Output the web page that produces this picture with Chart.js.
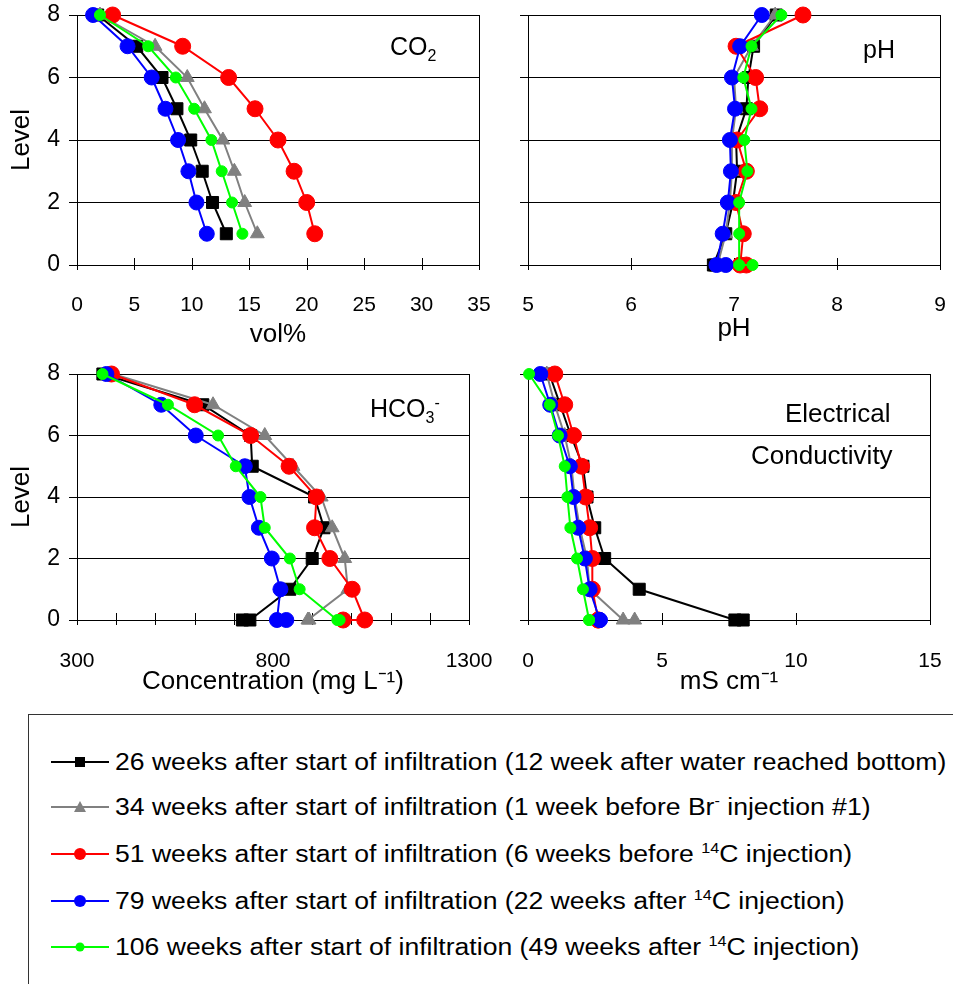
<!DOCTYPE html>
<html>
<head>
<meta charset="utf-8">
<script src="https://cdn.jsdelivr.net/npm/chart.js@4.4.1/dist/chart.umd.min.js"></script>
<style>
  body { margin: 0; width: 953px; height: 984px; overflow: hidden; position: relative; background: #fff;
         font-family: "Liberation Sans", Arial, sans-serif; color: #000; }
  canvas { position: absolute; }
  .ttl { position: absolute; font-size: 25px; line-height: 1; white-space: nowrap; z-index: 2; }
  .ttl .lo { font-size: 16px; position: relative; top: 6px; }
  .ttl .hi { font-size: 16px; position: relative; top: -9px; }
  #legend { position: absolute; left: 28px; top: 714px; width: 1000px; height: 300px; border: 1px solid #333; }
  .row { position: absolute; left: 0; height: 30px; width: 960px; }
  .row svg { position: absolute; left: 22px; top: 5px; }
  .row .txt { position: absolute; left: 86px; top: 0; line-height: 30px; font-size: 23px; white-space: nowrap;
              transform: scaleX(1.155); transform-origin: left center; }
  .row sup { font-size: 14px; vertical-align: 9px; line-height: 0; }
</style>
</head>
<body>
<canvas id="co2" width="500" height="360" style="left:0;top:0"></canvas>
<canvas id="ph" width="453" height="360" style="left:500px;top:0"></canvas>
<canvas id="hco3" width="500" height="350" style="left:0;top:360px"></canvas>
<canvas id="ec" width="453" height="350" style="left:500px;top:360px"></canvas>

<div class="ttl" style="left:390px;top:34px">CO<span class="lo">2</span></div>
<div class="ttl" style="left:863px;top:37px">pH</div>
<div class="ttl" style="left:370px;top:396px">HCO<span class="lo">3</span><span class="hi">-</span></div>
<div class="ttl" style="left:785px;top:400px;font-size:26px">Electrical</div>
<div class="ttl" style="left:751px;top:442px;font-size:26px">Conductivity</div>

<div id="legend"></div>

<script>
// depth levels (8 = top of column, 0 = outflow; two outflow samples)
const levelsGas = [8, 7, 6, 5, 4, 3, 2, 1];
const levelsWater = [8, 7, 6, 5, 4, 3, 2, 1, 0, 0];

const seriesNames = [
  "26 weeks after start of infiltration (12 week after water reached bottom)",
  "34 weeks after start of infiltration (1 week before Br<sup>-</sup> injection #1)",
  "51 weeks after start of infiltration (6 weeks before <sup>14</sup>C injection)",
  "79 weeks after start of infiltration (22 weeks after <sup>14</sup>C injection)",
  "106 weeks after start of infiltration (49 weeks after <sup>14</sup>C injection)"
];

// CO2, vol%
const co2W26 = [1.8, 5.2, 7.4, 8.7, 9.9, 10.9, 11.8, 13.0];
const co2W34 = [2.0, 6.8, 9.6, 11.1, 12.7, 13.7, 14.6, 15.7];
const co2W51 = [3.1, 9.2, 13.2, 15.5, 17.5, 18.9, 20.0, 20.7];
const co2W79 = [1.4, 4.4, 6.5, 7.7, 8.8, 9.7, 10.4, 11.3];
const co2W106 = [2.0, 6.2, 8.6, 10.2, 11.7, 12.6, 13.5, 14.4];

// pH
const phW26 = [7.41, 7.19, 7.14, 7.12, 7.02, 7.03, 6.99, 6.92, 6.80, 6.82];
const phW34 = [7.40, 7.17, 7.00, 7.02, 6.98, 6.98, 6.96, 6.92, 6.84, 6.86];
const phW51 = [7.67, 7.02, 7.21, 7.25, 7.03, 7.12, 7.02, 7.09, 7.06, 7.12];
const phW79 = [7.27, 7.06, 6.98, 7.01, 6.96, 6.97, 6.94, 6.89, 6.83, 6.92];
const phW106 = [7.46, 7.17, 7.09, 7.17, 7.10, 7.13, 7.05, 7.05, 7.05, 7.18];

// HCO3-, mg/L
const hco3W26 = [366, 621, 743, 747, 906, 930, 900, 843, 741, 722];
const hco3W34 = [392, 647, 779, 851, 923, 951, 983, 991, 889, 892];
const hco3W51 = [388, 600, 743, 841, 911, 906, 945, 1002, 1034, 979];
const hco3W79 = [375, 515, 603, 728, 740, 764, 797, 819, 810, 834];
const hco3W106 = [365, 532, 660, 705, 768, 779, 843, 868, 964, 970];

// electrical conductivity, mS/cm
const ecW26 = [0.8, 1.2, 1.6, 2.05, 2.2, 2.49, 2.86, 4.15, 7.72, 8.03];
const ecW34 = [0.7, 1.0, 1.37, 1.62, 1.74, 1.93, 2.2, 2.3, 3.55, 3.98];
const ecW51 = [1.0, 1.37, 1.7, 2.0, 2.15, 2.3, 2.4, 2.4, 2.62, 2.62];
const ecW79 = [0.46, 0.83, 1.18, 1.56, 1.7, 1.87, 2.12, 2.3, 2.68, 2.68];
const ecW106 = [0.04, 0.81, 1.12, 1.37, 1.47, 1.58, 1.83, 2.05, 2.28, 2.28];

const styles = [
  { color: "#000000", pointStyle: "rect", radius: 8.5 },
  { color: "#808080", pointStyle: "triangle", radius: 8 },
  { color: "#ff0000", pointStyle: "circle", radius: 8 },
  { color: "#0000ff", pointStyle: "circle", radius: 7.5 },
  { color: "#00ff00", pointStyle: "circle", radius: 5.5 }
];

Chart.defaults.font.family = '"Liberation Sans", Arial, sans-serif';
Chart.defaults.color = "#000";

// right border of the plot box + x tick marks crossing the axis
const frame = {
  id: "frame",
  beforeDatasetsDraw(chart) {
    const { ctx, chartArea: a, scales } = chart;
    const x = scales.x;
    ctx.save();
    ctx.strokeStyle = "#000";
    ctx.lineWidth = 1;
    ctx.beginPath();
    ctx.moveTo(Math.round(a.right) + 0.5, a.top);
    ctx.lineTo(Math.round(a.right) + 0.5, a.bottom);
    x.ticks.forEach(t => {
      const px = Math.round(x.getPixelForValue(t.value)) + 0.5;
      ctx.moveTo(px, a.bottom - 7);
      ctx.lineTo(px, a.bottom + 5);
    });
    ctx.stroke();
    ctx.restore();
  }
};

// keep the plot box where it is in the original, labels may overhang
function noPad(s) {
  s.paddingLeft = 0;
  s.paddingRight = 0;
  s.paddingTop = 0;
  s.paddingBottom = 0;
}

function panel(id, o) {
  const datasets = o.series.map((vals, i) => ({
    label: seriesNames[i],
    data: vals.map((v, k) => ({ x: v, y: o.levels[k] })),
    showLine: true,
    borderColor: styles[i].color,
    backgroundColor: styles[i].color,
    borderWidth: 2,
    pointStyle: styles[i].pointStyle,
    pointRadius: styles[i].radius,
    pointBackgroundColor: styles[i].color,
    pointBorderColor: styles[i].color,
    pointBorderWidth: 1,
    order: 4 - i,
    clip: false
  }));

  new Chart(document.getElementById(id), {
    type: "scatter",
    data: { datasets },
    options: {
      responsive: false,
      animation: false,
      devicePixelRatio: 1,
      layout: { padding: o.pad },
      plugins: { legend: { display: false }, tooltip: { enabled: false } },
      scales: {
        x: {
          type: "linear",
          min: o.xMin,
          max: o.xMax,
          afterFit: s => { s.height = o.xHeight; noPad(s); },
          border: { color: "#000", width: 1 },
          grid: { display: false, drawTicks: false },
          ticks: {
            stepSize: o.xStep,
            autoSkip: false,
            maxRotation: 0,
            padding: o.xTickPad,
            font: { size: 21 },
            callback: o.xLabel || (v => v)
          },
          title: { display: true, text: o.xTitle, font: { size: 26 }, padding: { top: 0, bottom: o.xTitlePad } }
        },
        y: {
          min: 0,
          max: 8,
          afterFit: s => { s.width = o.yWidth; noPad(s); },
          border: { color: "#000", width: 1 },
          grid: { color: "#000", lineWidth: 1, tickLength: 8 },
          ticks: { stepSize: 2, display: o.yLabels, padding: 9, font: { size: 23 } },
          title: { display: o.yLabels, text: "Level", font: { size: 26 }, padding: { top: 6, bottom: 0 } }
        }
      }
    },
    plugins: [frame]
  });
}

panel("co2", {
  levels: levelsGas,
  series: [co2W26, co2W34, co2W51, co2W79, co2W106],
  xMin: 0, xMax: 35, xStep: 5, xTitle: "vol%",
  pad: { left: 0, right: 21, top: 15, bottom: 0 },
  yWidth: 77, yLabels: true, xHeight: 95, xTickPad: 28, xTitlePad: 10
});

panel("ph", {
  levels: levelsWater,
  series: [phW26, phW34, phW51, phW79, phW106],
  xMin: 5, xMax: 9, xStep: 1, xTitle: "pH",
  pad: { left: 0, right: 13, top: 15, bottom: 0 },
  yWidth: 28, yLabels: false, xHeight: 95, xTickPad: 28, xTitlePad: 16
});

panel("hco3", {
  levels: levelsWater,
  series: [hco3W26, hco3W34, hco3W51, hco3W79, hco3W106],
  xMin: 300, xMax: 1300, xStep: 100, xTitle: "Concentration (mg L\u207B\u00B9)",
  xLabel: v => ((v - 300) % 500 === 0 ? v : ""),
  pad: { left: 0, right: 31, top: 14, bottom: 0 },
  yWidth: 77, yLabels: true, xHeight: 90, xTickPad: 29, xTitlePad: 13
});

panel("ec", {
  levels: levelsWater,
  series: [ecW26, ecW34, ecW51, ecW79, ecW106],
  xMin: 0, xMax: 15, xStep: 5, xTitle: "mS cm\u207B\u00B9",
  pad: { left: 0, right: 23, top: 14, bottom: 0 },
  yWidth: 28, yLabels: false, xHeight: 90, xTickPad: 29, xTitlePad: 13
});

// legend (html, markers as small svg)
function markerSvg(s) {
  const c = s.color;
  let m = "";
  if (s.pointStyle === "rect") m = `<rect x="24" y="5" width="10" height="10" fill="${c}"/>`;
  else if (s.pointStyle === "triangle") m = `<polygon points="29,4 35,15 23,15" fill="${c}"/>`;
  else {
    const r = s.radius > 6 ? 6 : 4.5;
    m = `<circle cx="29" cy="10" r="${r}" fill="${c}"/>`;
  }
  return `<svg width="58" height="20"><line x1="0" y1="10" x2="58" y2="10" stroke="${c}" stroke-width="2"/>${m}</svg>`;
}

const rowCenters = [47, 92, 139, 186, 232];
const legend = document.getElementById("legend");
seriesNames.forEach((name, i) => {
  const row = document.createElement("div");
  row.className = "row";
  row.style.top = (rowCenters[i] - 15) + "px";
  row.innerHTML = markerSvg(styles[i]) + `<span class="txt">${name}</span>`;
  legend.appendChild(row);
});
</script>
</body>
</html>
